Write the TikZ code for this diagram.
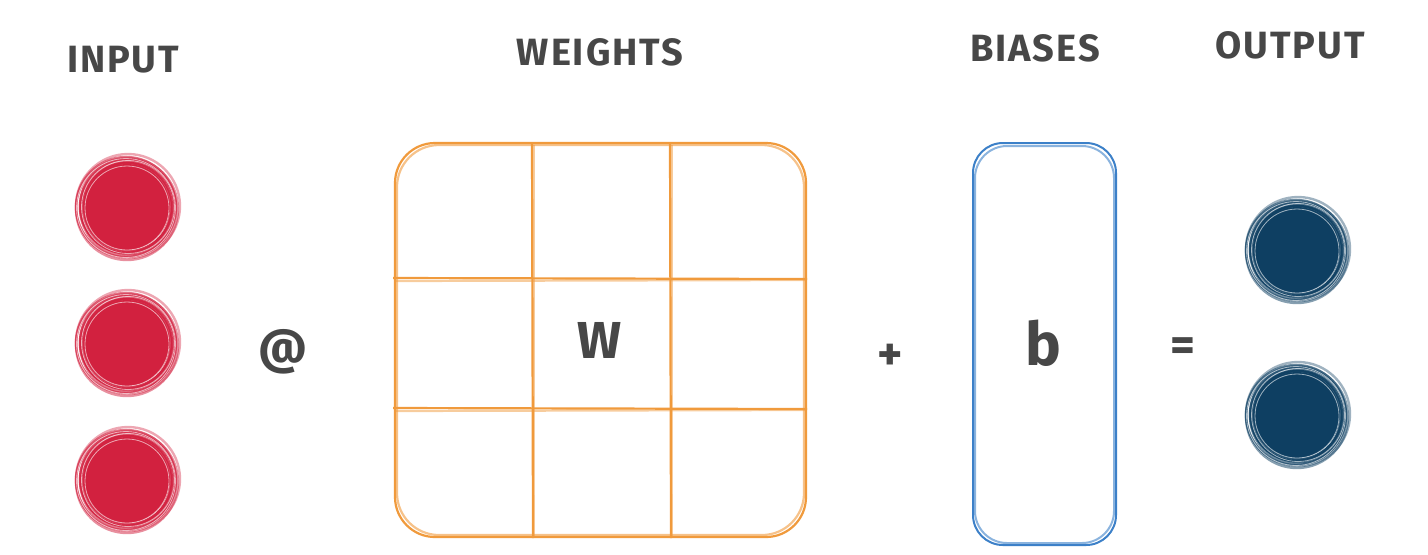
\documentclass[tikz,border=0pt]{standalone}
\usepackage{fontspec}
\setmainfont{Fira Sans}
\begin{document}
\begin{tikzpicture}[x=0.5pt,y=-0.5pt,
  lbl/.style={text=txt,font=\fontsize{19}{22}\selectfont\bfseries\addfontfeatures{LetterSpace=5}},
  sym/.style={text=txt,font=\fontsize{24}{28}\selectfont\bfseries},
  orng/.style={draw=wor,line width=1.1pt},
  blu/.style={draw=bbl,line width=1pt}]
\definecolor{txt}{HTML}{474747}
\definecolor{wor}{HTML}{F09A3C}
\definecolor{bbl}{HTML}{3C80C8}
\definecolor{inred}{HTML}{D2213F}
\definecolor{outblue}{HTML}{0E3F62}
\useasboundingbox (0,0) rectangle (1428,554);
% labels
\node[lbl] (tin) at (123,60) {INPUT};
\node[lbl] (tw) at (600,52) {WEIGHTS};
\node[lbl] (tb) at (1035,48) {BIASES};
\node[lbl] (tout) at (1290,45) {OUTPUT};
% input circles
\foreach \n/\cy in {i1/207,i2/343,i3/480}{
  \fill[inred] (127,\cy) circle[radius=43];
  \foreach \r/\dx/\dy/\op in {44/1/0/0.9,45/-1/1/0.8,47/0/-1/0.75,48/1/1/0.6,50/-1/0/0.6,51/0/2/0.5,52/1/-1/0.4,46/2/1/0.7}{
    \draw[inred,opacity=\op,line width=1.2pt] (127+\dx,\cy+\dy) circle[radius=\r];
  }
  \foreach \r/\dx/\dy in {42/0/1,46.5/1/0,49.5/-1/1}{
    \draw[white,opacity=0.6,line width=0.4pt] (127+\dx,\cy+\dy) circle[radius=\r];
  }
  \coordinate (\n) at (127,\cy);
}
% output circles
\foreach \n/\cy in {o1/250,o2/415}{
  \fill[outblue] (1297,\cy) circle[radius=43];
  \foreach \r/\dx/\dy/\op in {44/1/0/0.9,45/-1/1/0.8,47/0/-1/0.75,48/1/1/0.6,50/-1/0/0.6,51/0/2/0.5,52/1/-1/0.4,46/2/1/0.7}{
    \draw[outblue,opacity=\op,line width=1.2pt] (1297+\dx,\cy+\dy) circle[radius=\r];
  }
  \foreach \r/\dx/\dy in {42/0/1,46.5/1/0,49.5/-1/1}{
    \draw[white,opacity=0.6,line width=0.4pt] (1297+\dx,\cy+\dy) circle[radius=\r];
  }
  \coordinate (\n) at (1297,\cy);
}
% operators
\node[sym] (at) at (283,352) {@};
\node[sym] (plus) at (890,357) {+};
\node[sym] (eq) at (1183,350) {=};
% weights matrix
\draw[orng,rounded corners=20pt] (395,143) rectangle (806,537);
\draw[orng,opacity=0.6,rounded corners=21pt] (397,145) rectangle (804,535);
\foreach \x in {532,670}{
  \draw[orng] (\x,143) -- (\x+1,538);
  \draw[orng,opacity=0.5] (\x+2,145) -- (\x+2,536);
}
\foreach \y in {278,408}{
  \draw[orng] (393,\y) -- (807,\y+1);
  \draw[orng,opacity=0.5] (395,\y+3) -- (806,\y+2);
}
\node[sym,font=\fontsize{26}{30}\selectfont\bfseries] (w) at (600,340) {W};
% biases
\draw[blu,rounded corners=15pt] (973,143) rectangle (1116,545);
\draw[blu,opacity=0.6,rounded corners=16pt] (975,146) rectangle (1114,543);
\node[sym,font=\fontsize{30}{34}\selectfont\bfseries] (b) at (1043,343) {b};
\end{tikzpicture}
\end{document}
